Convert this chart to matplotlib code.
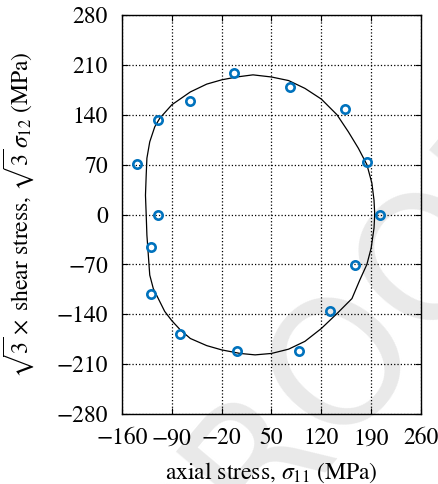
import matplotlib
matplotlib.use("Agg")
import matplotlib.pyplot as plt

plt.rcParams["font.family"] = "STIXGeneral"
plt.rcParams["mathtext.fontset"] = "stix"

# measured points
axial = [-139, -109, -109, -64, -2, 76, 153, 184, 203, 167, 132, 88, 1, -78, -119, -119]
shear = [71, 0, 132, 160, 198, 179, 148, 73, 0, -71, -135, -192, -192, -168, -112, -45]

# yield locus
locus_x = [195, 194, 190, 184, 174, 163, 142, 120, 97, 74, 50, 27, 6, -20, -41, -64,
           -78, -90, -100, -109, -116, -121, -123, -125, -126, -127, -126, -125, -121,
           -114, -107, -90, -64, -41, -20, 1, 24, 50, 74, 97, 120, 142, 158, 172, 184,
           191, 194, 195]
locus_y = [0, -19, -47, -70, -92, -118, -139, -160, -178, -189, -195, -197, -195, -190,
           -184, -174, -162, -149, -136, -118, -104, -85, -57, -29, 0, 27, 55, 79, 102,
           123, 135, 154, 172, 183, 189, 193, 196, 193, 188, 177, 162, 140, 116, 93, 70,
           44, 20, 0]

ticks = [-160, -90, -20, 50, 120, 190, 260]
yticks = [-280, -210, -140, -70, 0, 70, 140, 210, 280]

fig = plt.figure(figsize=(4.38, 4.84), dpi=100)

# faint proof watermark behind everything
fig.text(0.79, 0.27, "PROOF", rotation=50, fontsize=125, color="#e9e9e9",
         family="DejaVu Sans", ha="center", va="center", zorder=0)

ax = fig.add_axes([0.2785, 0.1446, 0.6827, 0.8244])
ax.patch.set_alpha(0)
ax.set_zorder(1)

ax.plot(locus_x, locus_y, color="black", lw=0.9, zorder=3)
ax.plot(axial, shear, "o", mfc="none", mec="#0072BD", ms=6, mew=1.9, zorder=4)

ax.set_xlim(-160, 260)
ax.set_ylim(-280, 280)
ax.set_xticks(ticks)
ax.set_yticks(yticks)
ax.grid(True, color="black", linestyle=":", linewidth=0.9)
ax.tick_params(direction="in", top=True, right=True, length=4, width=0.8,
               labelsize=17, pad=10)
for s in ax.spines.values():
    s.set_linewidth(1.0)

ax.set_xlabel(r"axial stress, $\sigma_{11}$ (MPa)", fontsize=17, labelpad=8)
ax.set_ylabel(r"$\sqrt{3}\times$ shear stress, $\sqrt{3}\,\sigma_{12}$ (MPa)",
              fontsize=17, labelpad=15)

fig.savefig("out.png", dpi=100)
